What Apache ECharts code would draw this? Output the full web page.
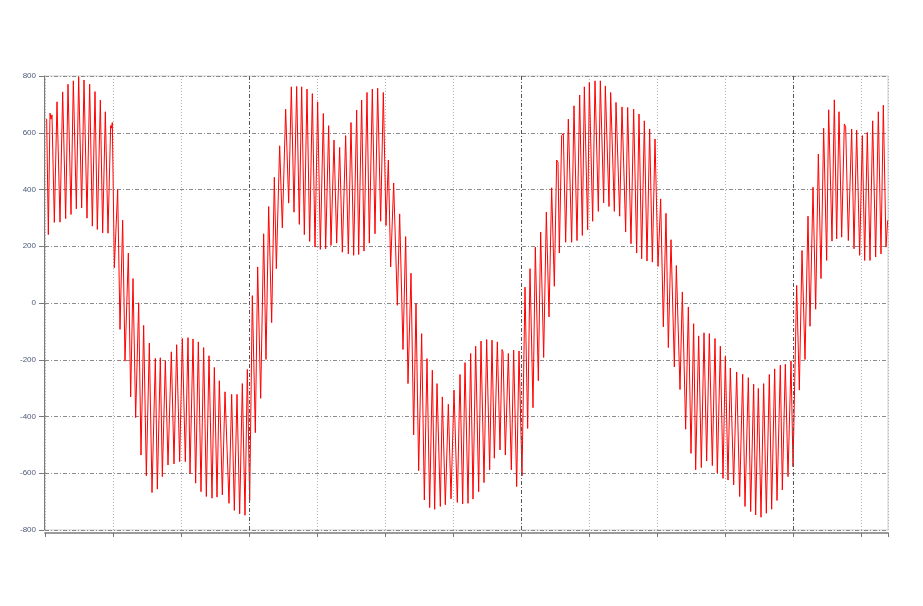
<!DOCTYPE html>
<html><head><meta charset="utf-8">
<script src="https://cdn.jsdelivr.net/npm/echarts@6/dist/echarts.min.js"></script>
<style>html,body{margin:0;padding:0;background:#fff}#c{width:923px;height:606px}</style>
</head><body><div id="c"></div>
<script>
// sample time (arbitrary time units, 204 units per minor division)
const sampleTime = [
5,10,15,18,21,28,36,45,53,62,69,78,85,94,101,110,117,126,134,142,150,157,166,173,181,189,197,199,202,208,
218,225,233,240,250,257,264,272,281,288,296,304,313,321,331,337,346,352,361,369,379,387,395,404,412,421,429,435,444,452,
460,468,476,484,492,501,508,516,523,532,540,552,560,568,576,584,592,600,607,614,622,631,
638,647,656,663,671,680,688,694,704,712,722,731,739,747,755,763,770,778,786,794,802,810,818,826,835,842,851,858,
867,875,884,892,902,910,918,926,935,941,950,957,966,973,982,990,998,1007,1015,1023,1030,1037,1046,1057,1064,1074,1082,1089,
1098,1106,1113,1121,1130,1138,1146,1154,1162,1169,1176,1186,1192,1201,1210,1218,1227,1237,1245,1253,1260,
1269,1277,1284,1292,1301,1308,1317,1325,1334,1341,1348,1357,1365,1371,1374,1381,1390,1399,1406,1415,1422,1426,1431,
1440,1448,1455,1464,1471,1480,1487,1496,1504,1512,1520,1528,1535,1539,1543,1550,1555,1562,1570,1580,1587,1596,1604,1612,
1618,1628,1633,1643,1650,1660,1666,1676,1681,1692,1697,1708,1713,1724,1731,1742,1748,1758,1766,1775,1782,1790,1798,1806,
1814,1822,1830,1839,1847,1855,1863,1870,1878,1888,
1894,1905,1912,1922,1930,1938,1946,1952,1961,1969,1977,1985,1993,2002,2010,2017,2026,2034,2041,2049,2056,2066,2075,2084,
2093,2100,2110,2117,2126,2132,2140,2148,2156,2164,2173,2180,2189,2196,2206,2212,2221,2229,2238,2244,
2255,2263,2271,2280,2289,2295,2304,2312,2320,2328,2336,2345,2351,2361,2368,2375,2382,2390,2398,2402,2410,2420,2427,2435,
2444,2452,2459,2467,2475,2483,2492,2500,2508,2515,2523,2528
];
// measured signal value at each sample
const sampleValue = [
649,241,669,648,663,284,709,285,744,297,771,312,783,332,797,335,786,299,771,271,745,259,715,247,674,246,625,616,636,124,
400,-93,292,-205,176,-331,86,-404,1,-536,-79,-609,-141,-668,-195,-656,-193,-612,-204,-571,-172,-567,-147,-559,-125,-559,-122,-602,-127,-635,
-137,-665,-157,-682,-186,-688,-227,-684,-274,-676,-313,-706,-322,-731,-322,-743,-284,-748,-234,-696,26,-457,
127,-336,244,-199,340,-69,443,121,554,265,683,352,762,320,763,277,762,241,754,217,738,197,709,189,668,191,625,203,
574,211,548,179,590,173,636,168,680,171,715,183,742,211,754,244,757,288,742,273,504,127,423,-8,314,-164,234,-284,
105,-465,-2,-591,-108,-694,-196,-721,-237,-727,-284,-717,-331,-711,-357,-690,-307,-703,-252,-708,-210,
-706,-178,-691,-152,-665,-134,-633,-129,-588,-131,-547,-137,-518,-164,-172,-536,-178,-588,-166,-647,-169,-164,-609,
56,-442,121,-369,197,-274,250,-192,320,-49,406,59,504,496,176,590,598,214,648,214,695,220,733,238,
762,258,777,288,783,323,783,353,765,340,742,323,707,306,691,250,689,209,683,176,666,156,642,148,
613,144,578,129,367,-84,316,-157,223,-225,
132,-305,39,-445,-14,-530,-73,-588,-116,-580,-105,-557,-108,-573,-125,-600,-152,-618,-188,-624,-229,-641,-243,-682,
-251,-717,-263,-735,-286,-747,-301,-755,-284,-741,-252,-727,-232,-696,-219,-659,-216,-612,-204,-577,
62,-307,185,-199,306,-82,408,-22,525,86,616,150,681,218,716,226,674,232,631,621,220,613,191,609,
168,590,150,601,150,642,162,674,173,697,197,291
];
const majorDivisions = [612, 1428, 2244];
const yMin = -800, yMax = 800, yStep = 200;
const tMax = 2529, tStep = 204;

const data = sampleTime.map((t, i) => [t, sampleValue[i]]);
const chart = echarts.init(document.getElementById('c'), null, {renderer: 'canvas'});
chart.setOption({
  animation: false,
  backgroundColor: '#ffffff',
  grid: {left: 45, right: 35, top: 76, bottom: 76, show: true, borderColor: '#d0d0d0', borderWidth: 1},
  xAxis: {
    type: 'value', min: 0, max: tMax, interval: tStep, offset: 3,
    axisLine: {show: true, onZero: false, lineStyle: {color: '#9a9a9a', width: 2}},
    axisTick: {show: true, length: 4, lineStyle: {color: '#777'}},
    axisLabel: {show: false},
    splitLine: {show: true, lineStyle: {color: '#b4b4b4', type: [1, 2], width: 1}}
  },
  yAxis: {
    type: 'value', min: yMin, max: yMax, interval: yStep, offset: 1,
    axisLine: {show: true, onZero: false, lineStyle: {color: '#7a7a7a'}},
    axisTick: {show: true, length: 5, lineStyle: {color: '#7a7a7a'}},
    axisLabel: {margin: 8, fontSize: 8, color: '#4b5a78', fontFamily: 'Liberation Sans'},
    splitLine: {show: true, lineStyle: {color: '#8a8a8a', type: [4, 2, 1, 2], width: 1}}
  },
  series: [{
    type: 'line', data: data, symbol: 'none', silent: true, z: 3,
    lineStyle: {color: '#ff0000', width: 1},
    markLine: {
      silent: true, symbol: 'none', label: {show: false}, animation: false,
      lineStyle: {color: '#555', type: [4, 2, 1, 2], width: 1},
      data: majorDivisions.map(x => ({xAxis: x}))
    }
  }]
});
</script></body></html>
